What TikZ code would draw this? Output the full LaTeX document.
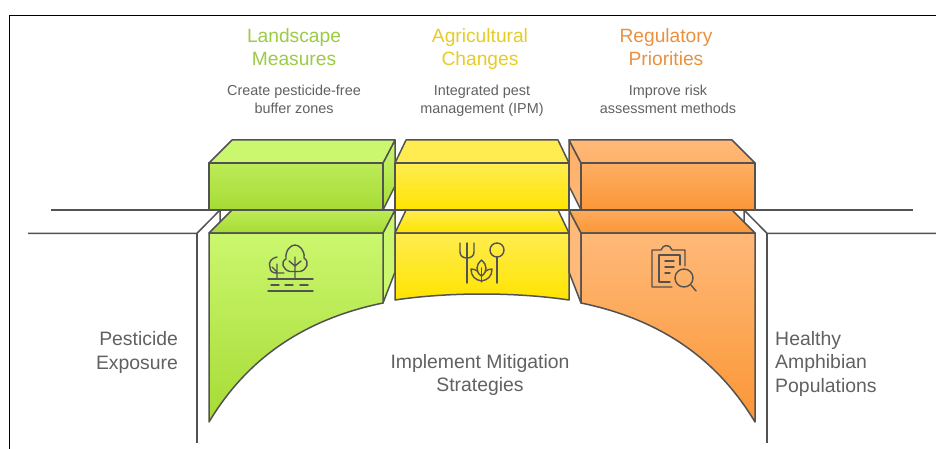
\documentclass[tikz,border=0pt]{standalone}
\usepackage{fontspec}
\setmainfont{Liberation Sans}
\colorlet{linegray}{black!68}
\colorlet{textgray}{black!62}
\definecolor{greentop}{HTML}{CBF76E}
\definecolor{greenbot}{HTML}{A6DB35}
\definecolor{yellowtop}{HTML}{FFEC50}
\definecolor{yellowbot}{HTML}{FFE400}
\definecolor{orangetop}{HTML}{FFB978}
\definecolor{orangebot}{HTML}{FB9636}
\definecolor{greentxt}{HTML}{9CCB45}
\definecolor{yellowtxt}{HTML}{E6CC28}
\definecolor{orangetxt}{HTML}{EA9140}
\tikzset{
	road/.style={draw=linegray,line width=1.5pt},
	face/.style={draw=linegray,line width=1.5pt,line join=round},
	greenface/.style={face,top color=greentop,bottom color=greenbot},
	yellowface/.style={face,top color=yellowtop,bottom color=yellowbot},
	orangeface/.style={face,top color=orangetop,bottom color=orangebot},
	icon/.style={draw=linegray,line width=1.4pt,line cap=round,line join=round},
	head/.style={align=center,font=\fontsize{19.2}{23.5}\selectfont},
	sub/.style={align=center,text=textgray,font=\fontsize{14.4}{18}\selectfont},
	lab/.style={text=textgray,font=\fontsize{19.4}{23.5}\selectfont},
}
\begin{document}
\begin{tikzpicture}[x=1pt,y=-1pt]
\useasboundingbox (0,0) rectangle (936,449);
\fill[white] (0,0) rectangle (936,449);
\draw[black,line width=0.9pt] (9.5,449) -- (9.5,15.5) -- (936,15.5);

% road
\draw[road] (51,210) -- (913,210);
\draw[road] (28,233.3) -- (197,233.3) -- (220,210) -- (220,222);
\draw[road] (197,233.3) -- (197,443);
\draw[road] (936,233.3) -- (767,233.3) -- (744,210) -- (744,222);
\draw[road] (767,233.3) -- (767,443);

% upper blocks
\draw[greenface] (383,163) -- (395,140) -- (395,186) -- (383,210) -- cycle;
\draw[greenface,bottom color=greentop] (209,163) -- (232,140) -- (395,140) -- (383,163) -- cycle;
\draw[greenface,top color=greentop!60!greenbot] (209,163) rectangle (383,210);
\draw[yellowface,bottom color=yellowtop] (395,163) -- (406,140) -- (558,140) -- (569,163) -- cycle;
\draw[yellowface,top color=yellowtop] (395,163) rectangle (569,210);
\draw[orangeface,top color=orangetop!70!orangebot,bottom color=orangetop] (569,140) -- (581,163) -- (581,210) -- (569,186) -- cycle;
\draw[orangeface,bottom color=orangetop!80!orangebot] (569,140) -- (732,140) -- (755,163) -- (581,163) -- cycle;
\draw[orangeface,top color=orangetop!70!orangebot] (581,163) rectangle (755,210);

% lower blocks
\draw[greenface,bottom color=greentop] (383,233) -- (395,210) -- (395,272) -- (383,303) -- cycle;
\draw[greenface,top color=greentop!60!greenbot] (209,233) -- (232,210) -- (395,210) -- (383,233) -- cycle;
\draw[greenface] (209,233) -- (383,233) -- (383,303) .. controls (300,320) and (245,362) .. (209,422) -- cycle;
\draw[yellowface] (395,233) -- (406,210) -- (558,210) -- (569,233) -- cycle;
\draw[yellowface] (395,233) -- (569,233) -- (569,300) .. controls (515,292) and (449,292) .. (395,300) -- cycle;
\draw[orangeface,top color=orangetop,bottom color=orangetop] (569,210) -- (581,233) -- (581,303) -- (569,272) -- cycle;
\draw[orangeface,top color=orangetop!60!orangebot] (569,210) -- (732,210) -- (755,233) -- (581,233) -- cycle;
\draw[orangeface] (581,233) -- (755,233) -- (755,422) .. controls (719,362) and (664,320) .. (581,303) -- cycle;

% trees
\draw[icon] (268,279) -- (313,279) (268,291) -- (313,291);
\foreach \x in {271,285,300} \draw[icon] (\x,285) -- (\x+8,285);
\draw[icon] (295,279) -- (295,257) (295,266) -- (289,261) (295,266) -- (301,261);
\draw[icon] (290,271.5) .. controls (283,270) and (280,262) .. (286,259) .. controls (285,250) and (291,245) .. (295,245) .. controls (299,245) and (305,250) .. (304,258) .. controls (310,262) and (307,270) .. (300,271.5) -- cycle;
\draw[icon] (277,279) -- (277,264) (277,272) -- (272,267);
\draw[icon] (277,257) .. controls (271,258) and (268,263) .. (270,267) .. controls (270,271) and (272,273) .. (277,273) -- (284,273);

% fork and plant
\draw[icon] (460,243) -- (460,252) .. controls (460,256) and (463,258) .. (467,258) .. controls (471,258) and (474,256) .. (474,252) -- (474,243);
\draw[icon] (467,243) -- (467,283);
\draw[icon] (497,257) -- (497,283);
\draw[icon] (497,250) circle (7);
\draw[icon] (481.5,282) -- (481.5,268);
\draw[icon] (481.5,260) .. controls (476,264) and (475,272) .. (481.5,276) .. controls (488,272) and (487,264) .. (481.5,260) -- cycle;
\draw[icon] (481.5,281) .. controls (475,280) and (471,276) .. (471,269) .. controls (474,269) and (476,270) .. (477,271);
\draw[icon] (481.5,281) .. controls (488,280) and (492,276) .. (492,269) .. controls (489,269) and (487,270) .. (486,271);

% clipboard and lens
\draw[icon] (672,287) -- (652,287) -- (652,250) -- (661,250) .. controls (663,244) and (670,244) .. (672,250) -- (685,250) -- (685,266);
\draw[icon] (659,255) -- (659,282) -- (670,282);
\draw[icon] (659,255) -- (680,255) -- (680,265);
\draw[icon] (665,261) -- (674,261) (665,267) -- (674,267) (665,273) -- (670,273);
\draw[icon] (684,278) circle (9);
\draw[icon] (691,285) -- (696,291);

% texts
\node (landscape) [head,text=greentxt] at (294,47) {Landscape\\Measures};
\node (agri) [head,text=yellowtxt] at (480,49) {Agricultural\\Changes};
\node (regul) [head,text=orangetxt] at (666,47) {Regulatory\\Priorities};
\node (buffer) [sub] at (294,99) {Create pesticide-free\\buffer zones};
\node (ipm) [sub] at (482,101) {Integrated pest\\management (IPM)};
\node (risk) [sub] at (668,99) {Improve risk\\assessment methods};
\node (exposure) [lab,align=right,anchor=east] at (181.5,352.5) {Pesticide\\Exposure};
\node (strategies) [lab,align=center] at (480,375) {Implement Mitigation\\Strategies};
\node (healthy) [lab,align=left,anchor=west] at (771.7,363.5) {Healthy\\Amphibian\\Populations};
\end{tikzpicture}
\end{document}
